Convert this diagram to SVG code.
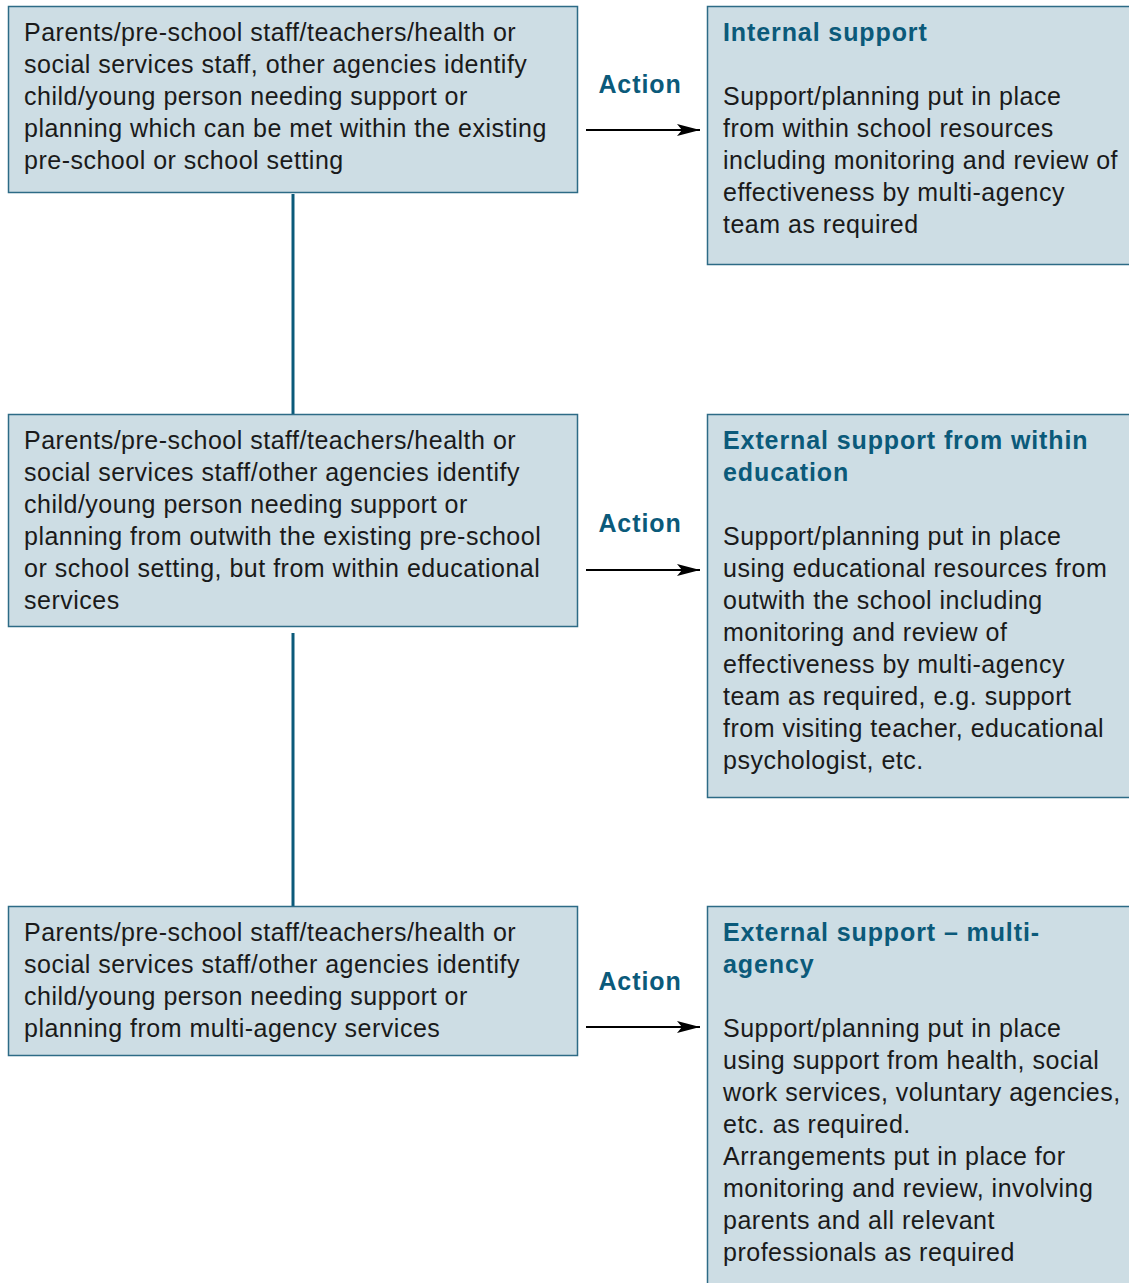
<svg xmlns="http://www.w3.org/2000/svg" width="1129" height="1283" viewBox="0 0 1129 1283">
<style>
.box{fill:#cddde4;stroke:#2d6b86;stroke-width:1.5}
.t{font-family:"Liberation Sans",Arial,sans-serif;font-size:25px;letter-spacing:0.5px;fill:#1a1a1a}
.h{font-family:"Liberation Sans",Arial,sans-serif;font-size:25px;letter-spacing:0.9px;font-weight:bold;fill:#0b5a7a}
.vl{stroke:#0b5a7a;stroke-width:3;fill:none}
.ar{stroke:#000;stroke-width:2.2;fill:none;marker-end:url(#ah)}
</style>
<defs>
<marker id="ah" markerWidth="24" markerHeight="12" refX="23" refY="6" orient="auto" markerUnits="userSpaceOnUse">
<path d="M0,0 L23,6 L0,12 L5,6 Z" fill="#000"/>
</marker>
</defs>
<rect width="1129" height="1283" fill="#fff"/>
<g id="connectors">
<line class="vl" x1="293" y1="194" x2="293" y2="414"/>
<line class="vl" x1="293" y1="633" x2="293" y2="906"/>
<line class="ar" x1="586" y1="130" x2="700" y2="130"/>
<line class="ar" x1="586" y1="570" x2="700" y2="570"/>
<line class="ar" x1="586" y1="1027" x2="700" y2="1027"/>
<text class="h" x="640" y="93" text-anchor="middle">Action</text>
<text class="h" x="640" y="532" text-anchor="middle">Action</text>
<text class="h" x="640" y="990" text-anchor="middle">Action</text>
</g>
<g id="n1">
<rect class="box" x="8.5" y="6.5" width="569" height="186"/>
<text class="t" x="24"><tspan x="24" y="41">Parents/pre-school staff/teachers/health or</tspan><tspan x="24" y="73">social services staff, other agencies identify</tspan><tspan x="24" y="105">child/young person needing support or</tspan><tspan x="24" y="137">planning which can be met within the existing</tspan><tspan x="24" y="169">pre-school or school setting</tspan></text>
</g>
<g id="n2">
<rect class="box" x="8.5" y="414.5" width="569" height="212"/>
<text class="t"><tspan x="24" y="449">Parents/pre-school staff/teachers/health or</tspan><tspan x="24" y="481">social services staff/other agencies identify</tspan><tspan x="24" y="513">child/young person needing support or</tspan><tspan x="24" y="545">planning from outwith the existing pre-school</tspan><tspan x="24" y="577">or school setting, but from within educational</tspan><tspan x="24" y="609">services</tspan></text>
</g>
<g id="n3">
<rect class="box" x="8.5" y="906.5" width="569" height="149"/>
<text class="t"><tspan x="24" y="941">Parents/pre-school staff/teachers/health or</tspan><tspan x="24" y="973">social services staff/other agencies identify</tspan><tspan x="24" y="1005">child/young person needing support or</tspan><tspan x="24" y="1037">planning from multi-agency services</tspan></text>
</g>
<g id="r1">
<rect class="box" x="707.5" y="6.5" width="430" height="258"/>
<text class="h" x="723" y="41">Internal support</text>
<text class="t"><tspan x="723" y="105">Support/planning put in place</tspan><tspan x="723" y="137">from within school resources</tspan><tspan x="723" y="169">including monitoring and review of</tspan><tspan x="723" y="201">effectiveness by multi-agency</tspan><tspan x="723" y="233">team as required</tspan></text>
</g>
<g id="r2">
<rect class="box" x="707.5" y="414.5" width="430" height="383"/>
<text class="h"><tspan x="723" y="449">External support from within</tspan><tspan x="723" y="481">education</tspan></text>
<text class="t"><tspan x="723" y="545">Support/planning put in place</tspan><tspan x="723" y="577">using educational resources from</tspan><tspan x="723" y="609">outwith the school including</tspan><tspan x="723" y="641">monitoring and review of</tspan><tspan x="723" y="673">effectiveness by multi-agency</tspan><tspan x="723" y="705">team as required, e.g. support</tspan><tspan x="723" y="737">from visiting teacher, educational</tspan><tspan x="723" y="769">psychologist, etc.</tspan></text>
</g>
<g id="r3">
<rect class="box" x="707.5" y="906.5" width="430" height="400"/>
<text class="h"><tspan x="723" y="941">External support – multi-</tspan><tspan x="723" y="973">agency</tspan></text>
<text class="t"><tspan x="723" y="1037">Support/planning put in place</tspan><tspan x="723" y="1069">using support from health, social</tspan><tspan x="723" y="1101">work services, voluntary agencies,</tspan><tspan x="723" y="1133">etc. as required.</tspan><tspan x="723" y="1165">Arrangements put in place for</tspan><tspan x="723" y="1197">monitoring and review, involving</tspan><tspan x="723" y="1229">parents and all relevant</tspan><tspan x="723" y="1261">professionals as required</tspan></text>
</g>
</svg>
